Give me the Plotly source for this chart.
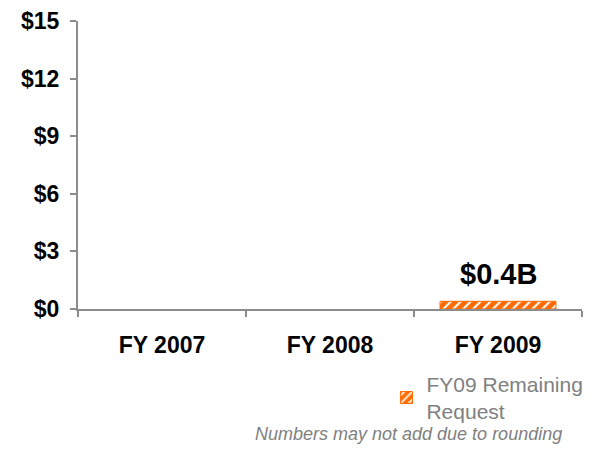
import plotly.graph_objects as go

categories = ["FY 2007", "FY 2008", "FY 2009"]
remaining_request = [None, None, 0.4]
series_name = "FY09 Remaining<br>Request"
y_tick_vals = [0, 3, 6, 9, 12, 15]
y_tick_text = ["$0", "$3", "$6", "$9", "$12", "$15"]
bar_label = "$0.4B"
footnote = "Numbers may not add due to rounding"

ORANGE = "#FF6A00"
AXIS = "#8C8C8C"
FONT = "Liberation Sans, Arial, sans-serif"

fig = go.Figure()
fig.add_trace(go.Bar(
    x=categories, y=remaining_request, name=series_name,
    width=0.69,
    marker=dict(color=ORANGE, line=dict(color=ORANGE, width=1),
                pattern=dict(shape="/", fgcolor="white", bgcolor=ORANGE,
                             size=7, solidity=0.3, fillmode="replace")),
    showlegend=True,
))

fig.add_annotation(x=categories[2], y=remaining_request[2], xref="x", yref="y",
                   text="<b>" + bar_label + "</b>", showarrow=False,
                   yanchor="bottom", yshift=9,
                   font=dict(family=FONT, size=29, color="black"))

fig.add_annotation(x=0.964, y=-0.435, xref="paper", yref="paper",
                   text="<i>" + footnote + "</i>", showarrow=False,
                   xanchor="right", yanchor="middle",
                   font=dict(family=FONT, size=18, color="#808080"))

fig.update_layout(
    width=598, height=451,
    margin=dict(l=78, r=16, t=21, b=142, autoexpand=False),
    paper_bgcolor="white", plot_bgcolor="white",
    font=dict(family=FONT),
    legend=dict(x=0.612, y=-0.19, xanchor="left", yanchor="top",
                font=dict(family=FONT, size=21, color="#808080"),
                bgcolor="rgba(0,0,0,0)", itemwidth=30, tracegroupgap=0),
    bargap=0.31,
)
fig.update_xaxes(
    type="category", showline=True, linecolor=AXIS, linewidth=2,
    ticks="outside", tickson="boundaries", ticklen=6, tickcolor=AXIS, tickwidth=2,
    tickfont=dict(family=FONT, size=23, color="black", weight="bold"),
    ticklabelstandoff=14, showgrid=False, zeroline=False, automargin=False,
)
fig.update_yaxes(
    range=[0, 15], tickvals=y_tick_vals, ticktext=y_tick_text,
    showline=True, linecolor=AXIS, linewidth=2,
    ticks="outside", ticklen=6, tickcolor=AXIS, tickwidth=2,
    tickfont=dict(family=FONT, size=23, color="black", weight="bold"),
    ticklabelstandoff=6, ticklabeloverflow="allow",
    showgrid=False, zeroline=False, automargin=False,
)

fig.write_html("out.html", config={"displayModeBar": False},
               post_script="document.body.style.margin='0';document.body.style.padding='0';")
